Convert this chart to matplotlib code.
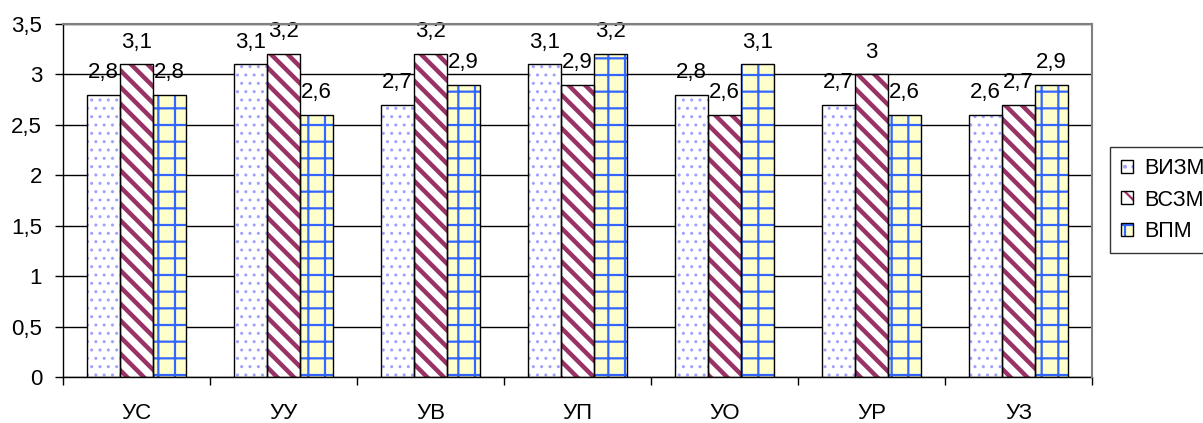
import matplotlib
matplotlib.use("Agg")
import matplotlib.pyplot as plt
import numpy as np
from matplotlib.patches import Patch
from matplotlib.legend_handler import HandlerTuple

categories = ['УС', 'УУ', 'УВ', 'УП', 'УО', 'УР', 'УЗ']
series_names = ['ВИЗМ', 'ВСЗМ', 'ВПМ']
vizm = [2.8, 3.1, 2.7, 3.1, 2.8, 2.7, 2.6]
vszm = [3.1, 3.2, 3.2, 2.9, 2.6, 3.0, 2.7]
vpm = [2.8, 2.6, 2.9, 3.2, 3.1, 2.6, 2.9]
y_ticks = [0, 0.5, 1, 1.5, 2, 2.5, 3, 3.5]

styles = [
    dict(face='#ffffff', hatch='..', hcolor='#a0a0ff', hlw=1.0),
    dict(face='#ffffff', hatch='\\\\', hcolor='#993366', hlw=3.2),
    dict(face='#ffffcc', hatch='+', hcolor='#3366ff', hlw=1.6),
]

plt.rcParams['font.family'] = ['Liberation Sans', 'DejaVu Sans']

fig = plt.figure(figsize=(12.03, 4.23), dpi=100)
ax = fig.add_axes([63/1203, 46/423, (1092-63)/1203, (377-24)/423])

x = np.arange(len(categories))
w = 0.224
handles = []
for i, (vals, st) in enumerate(zip([vizm, vszm, vpm], styles)):
    pos = x + (i - 1) * w
    plt.rcParams['hatch.linewidth'] = st['hlw']
    bars = ax.bar(pos, vals, w, color=st['face'], hatch=st['hatch'],
                  edgecolor=st['hcolor'], linewidth=0, zorder=2)
    for b in bars:
        if hasattr(b, 'set_hatch_linewidth'):
            b.set_hatch_linewidth(st['hlw'])
    ax.bar(pos, vals, w, fill=False, edgecolor='black', linewidth=1.0, zorder=3)
    for xp, v in zip(pos, vals):
        txt = ('%g' % v).replace('.', ',')
        ax.annotate(txt, (xp, v), xytext=(0, 8.5), textcoords='offset points',
                    ha='center', va='bottom', fontsize=16, zorder=4)
    p1 = Patch(facecolor=st['face'], hatch=st['hatch'], edgecolor=st['hcolor'], linewidth=0)
    if hasattr(p1, 'set_hatch_linewidth'):
        p1.set_hatch_linewidth(min(st['hlw'], 1.8))
    p2 = Patch(fill=False, edgecolor='black', linewidth=1.0)
    handles.append((p1, p2))

ax.set_xlim(-0.5, len(categories) - 0.5)
ax.set_ylim(0, 3.5)
ax.set_yticks(y_ticks)
ax.set_yticklabels([('%g' % t).replace('.', ',') for t in y_ticks], fontsize=16)
ax.yaxis.grid(True, color='black', linewidth=1.0, zorder=0)
ax.set_axisbelow(True)
ax.tick_params(axis='y', length=6, width=1, pad=9, direction='out')

ax.set_xticks(x)
ax.set_xticklabels(categories, fontsize=16)
ax.set_xticks(np.arange(-0.5, len(categories)), minor=True)
ax.tick_params(axis='x', which='major', length=0, pad=19)
ax.tick_params(axis='x', which='minor', length=6, width=1, direction='out')

for s in ['left', 'bottom']:
    ax.spines[s].set_color('black')
    ax.spines[s].set_linewidth(1.0)
for s in ['top', 'right']:
    ax.spines[s].set_color('#808080')
    ax.spines[s].set_linewidth(1.5)
    ax.spines[s].set_zorder(5)

leg = fig.legend(handles, series_names, loc='upper left',
                 bbox_to_anchor=(1110/1203, 1 - 147/423), bbox_transform=fig.transFigure,
                 handler_map={tuple: HandlerTuple(ndivide=1)},
                 fontsize=15.5, frameon=True, fancybox=False, shadow=False,
                 borderaxespad=0, borderpad=0.5, labelspacing=0.5,
                 handlelength=0.55, handleheight=0.55, handletextpad=0.55)
leg.get_frame().set_edgecolor('black')
leg.get_frame().set_linewidth(1.0)

fig.savefig('out.png', dpi=100)
